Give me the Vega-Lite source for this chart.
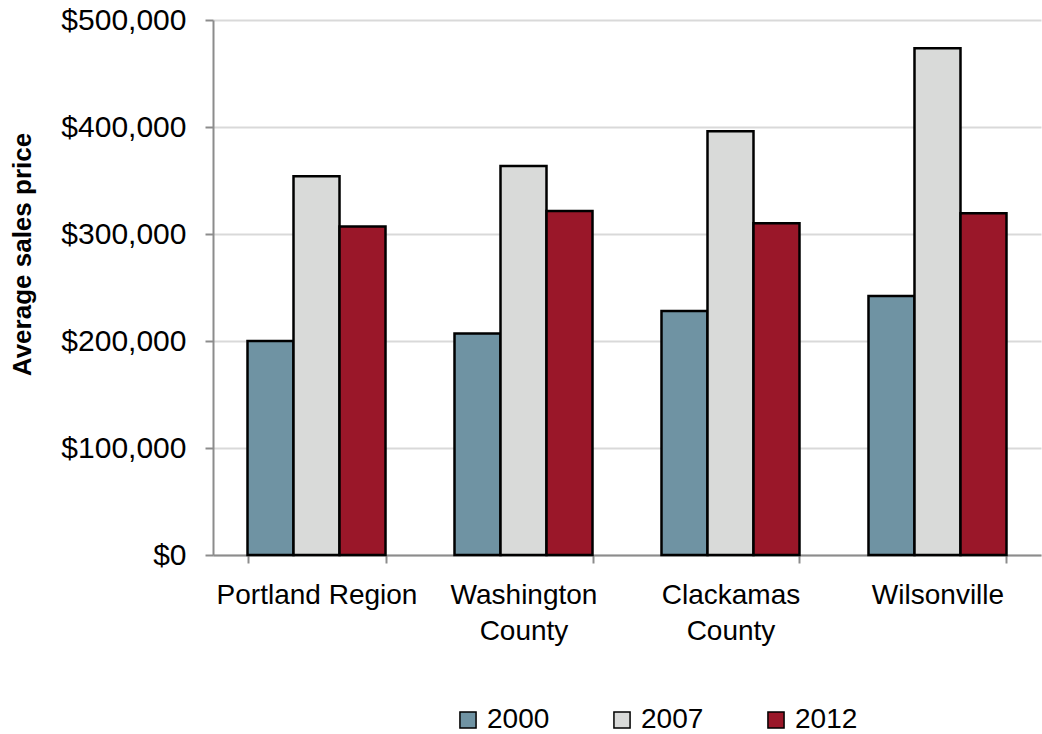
{
  "$schema": "https://vega.github.io/schema/vega-lite/v6.json",
  "width": 828,
  "height": 535,
  "autosize": {"type": "none"},
  "padding": {"left": 213, "top": 20, "right": 1, "bottom": 179},
  "background": "white",
  "config": {
    "view": {"stroke": null},
    "font": "Liberation Sans",
    "axis": {"labelFont": "Liberation Sans", "titleFont": "Liberation Sans"}
  },
  "data": {
    "values": [
      {"area": "Portland Region", "year": "2000", "price": 200000},
      {"area": "Portland Region", "year": "2007", "price": 354000},
      {"area": "Portland Region", "year": "2012", "price": 307000},
      {"area": "Washington County", "year": "2000", "price": 207000},
      {"area": "Washington County", "year": "2007", "price": 363500},
      {"area": "Washington County", "year": "2012", "price": 321500},
      {"area": "Clackamas County", "year": "2000", "price": 228000},
      {"area": "Clackamas County", "year": "2007", "price": 396000},
      {"area": "Clackamas County", "year": "2012", "price": 310000},
      {"area": "Wilsonville", "year": "2000", "price": 242000},
      {"area": "Wilsonville", "year": "2007", "price": 473500},
      {"area": "Wilsonville", "year": "2012", "price": 319500}
    ]
  },
  "mark": {"type": "bar", "stroke": "black", "strokeWidth": 2.5},
  "encoding": {
    "x": {
      "field": "area",
      "type": "nominal",
      "sort": null,
      "scale": {"paddingInner": 0.3333, "paddingOuter": 0.1667},
      "axis": {
        "title": null,
        "labelAngle": 0,
        "labelFontSize": 28,
        "labelColor": "black",
        "labelPadding": 18,
        "labelLineHeight": 36,
        "labelLimit": 400,
        "labelExpr": "!isValid(datum.value) ? '' : datum.value == 'Portland Region' ? datum.value : split(datum.value, ' ')",
        "tickBand": "extent",
        "tickSize": 8,
        "tickColor": "#8c8c8c",
        "tickWidth": 2,
        "domainColor": "#8c8c8c",
        "domainWidth": 2,
        "grid": false
      }
    },
    "xOffset": {"field": "year", "type": "nominal"},
    "y": {
      "field": "price",
      "type": "quantitative",
      "scale": {"domain": [0, 500000]},
      "axis": {
        "title": "Average sales price",
        "titleFontSize": 26,
        "titleFontWeight": "bold",
        "titleColor": "black",
        "titleAngle": -90,
        "titleX": -191,
        "titleY": 234,
        "titleAlign": "center",
        "titleBaseline": "middle",
        "values": [0, 100000, 200000, 300000, 400000, 500000],
        "format": "$,.0f",
        "labelFontSize": 30,
        "labelColor": "black",
        "labelPadding": 19,
        "tickSize": 8,
        "tickColor": "#8c8c8c",
        "tickWidth": 2,
        "domainColor": "#8c8c8c",
        "domainWidth": 2,
        "gridColor": "#d9d9d9",
        "gridWidth": 2
      }
    },
    "color": {
      "field": "year",
      "type": "nominal",
      "scale": {"domain": ["2000", "2007", "2012"], "range": ["#6f93a3", "#d9dad9", "#9a1729"]},
      "legend": {
        "title": null,
        "orient": "none",
        "direction": "horizontal",
        "legendX": 241,
        "legendY": 686,
        "symbolType": "square",
        "symbolSize": 260,
        "symbolStrokeColor": "black",
        "symbolStrokeWidth": 1.5,
        "labelFontSize": 28,
        "labelColor": "black",
        "labelOffset": 5,
        "columnPadding": 58
      }
    }
  }
}
